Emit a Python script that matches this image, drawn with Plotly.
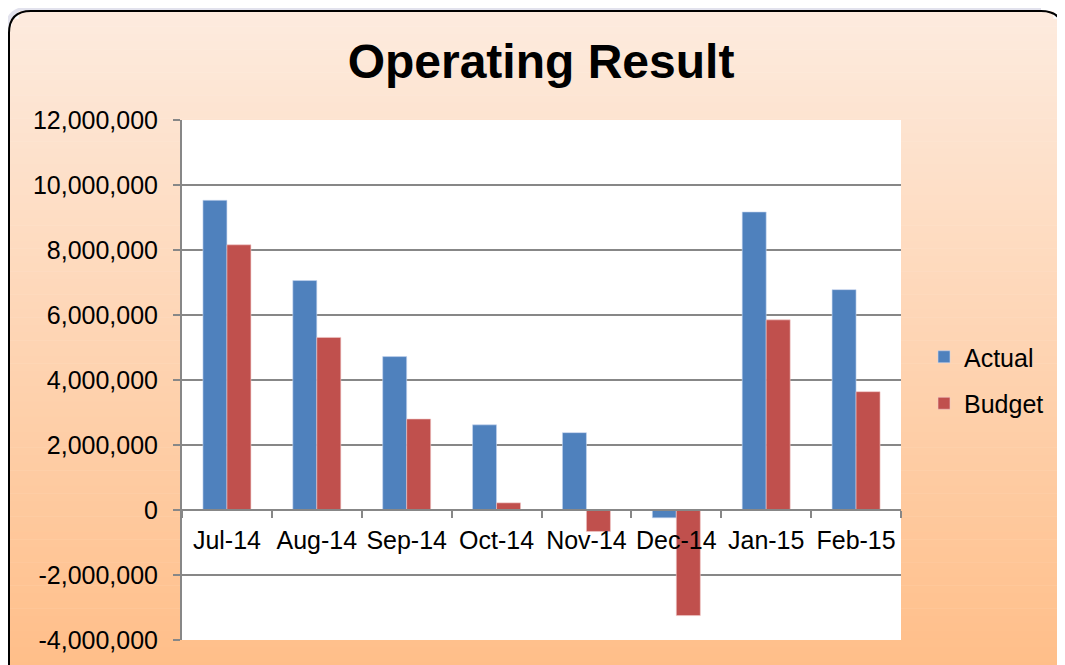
import math
import plotly.graph_objects as go

# ---- data ----
categories = ["Jul-14", "Aug-14", "Sep-14", "Oct-14", "Nov-14", "Dec-14", "Jan-15", "Feb-15"]
actual = [9530000, 7060000, 4720000, 2620000, 2380000, -240000, 9170000, 6780000]
budget = [8160000, 5310000, 2800000, 220000, -660000, -3250000, 5850000, 3640000]
y_tick_vals = [-4000000, -2000000, 0, 2000000, 4000000, 6000000, 8000000, 10000000, 12000000]
y_tick_text = ["-4,000,000", "-2,000,000", "0", "2,000,000", "4,000,000", "6,000,000",
               "8,000,000", "10,000,000", "12,000,000"]

# ---- layout geometry (page pixels; the page body adds an 8px offset) ----
OFF = 8
WIDTH, HEIGHT = 1065 - OFF, 665 - OFF
L, R, T, B = 182 - OFF, 901 - OFF, 120 - OFF, 640 - OFF
PW, PH = R - L, B - T


def px(x):
    return (x - OFF - L) / PW


def py(y):
    return (B - (y - OFF)) / PH


FONT = "Arial, Liberation Sans, sans-serif"
GRID = "#878787"

fig = go.Figure()
fig.add_trace(go.Bar(name="Actual", x=categories, y=actual, legendgroup="a",
                     marker=dict(color="#4F81BD", line=dict(width=1, color="rgba(200,215,240,0.6)"))))
fig.add_trace(go.Bar(name="Budget", x=categories, y=budget, legendgroup="b",
                     marker=dict(color="#C0504D", line=dict(width=1, color="rgba(240,200,200,0.6)"))))

# ---- background: rounded gradient panel ----
shapes = []
bx0, by0, bx1, by1, rad = 9, 11, 1063, 700, 22
c_top = (253, 235, 223)
c_bot = (255, 188, 132)
N = 90
for i in range(N):
    ya = by0 + (by1 - by0) * i / N
    yb = by0 + (by1 - by0) * (i + 1) / N
    t = (i + 0.5) / N
    col = tuple(int(round(c_top[k] + (c_bot[k] - c_top[k]) * t)) for k in range(3))
    ym = (ya + yb) / 2
    inset = 0
    if ym < by0 + rad:
        d = by0 + rad - ym
        inset = rad - math.sqrt(max(rad * rad - d * d, 0))
    shapes.append(dict(type="rect", xref="paper", yref="paper", layer="below",
                       x0=px(bx0 + inset), x1=px(bx1 - inset), y0=py(yb + 0.5), y1=py(ya),
                       fillcolor="rgb(%d,%d,%d)" % col, line=dict(width=0)))
# plot area white
shapes.append(dict(type="rect", xref="paper", yref="paper", layer="below",
                   x0=0, x1=1, y0=0, y1=1, fillcolor="white", line=dict(width=0)))
# rounded border
path = ("M {a},{b} L {a},{c} Q {a},{d} {e},{d} L {f},{d} Q {g},{d} {g},{c} L {g},{b}").format(
    a=px(bx0), b=py(by1), c=py(by0 + rad), d=py(by0), e=px(bx0 + rad), f=px(bx1 - rad), g=px(bx1))
shapes.append(dict(type="path", xref="paper", yref="paper", layer="below", path=path,
                   line=dict(color="black", width=2)))
# soft shadow hint
spath = ("M {a},{b} L {a},{c} Q {a},{d} {e},{d} L {f},{d}").format(
    a=px(bx0 - 3), b=py(by1), c=py(by0 + rad), d=py(by0 - 3), e=px(bx0 + rad), f=px(bx1 - rad))
shapes.insert(0, dict(type="path", xref="paper", yref="paper", layer="below", path=spath,
                      line=dict(color="rgba(190,190,215,0.45)", width=4)))

fig.update_layout(
    width=WIDTH, height=HEIGHT,
    margin=dict(l=L, r=WIDTH - R, t=T, b=HEIGHT - B, pad=0),
    paper_bgcolor="white", plot_bgcolor="white",
    barmode="group", bargap=0.466, bargroupgap=0,
    shapes=shapes,
    font=dict(family=FONT, size=25, color="black"),
    title=dict(text="<b>Operating Result</b>", font=dict(family=FONT, size=48, color="black"),
               x=px(541), xref="paper", xanchor="center", y=1 - (61 - OFF) / HEIGHT, yref="container",
               yanchor="middle"),
    legend=dict(x=px(924), xanchor="left", y=py(380), yanchor="middle",
                bgcolor="rgba(0,0,0,0)", font=dict(family=FONT, size=25),
                traceorder="grouped", tracegroupgap=11),
    showlegend=True,
)
fig.update_xaxes(type="category", anchor="free", position=0.25, showgrid=False,
                 showline=True, linecolor=GRID, linewidth=2, ticks="outside", tickson="boundaries",
                 ticklen=7, tickwidth=2, tickcolor=GRID, tickangle=0, ticklabelstandoff=8,
                 tickfont=dict(family=FONT, size=25), fixedrange=True)
fig.update_yaxes(range=[-4000000, 12000000], tickvals=y_tick_vals, ticktext=y_tick_text,
                 showgrid=True, gridcolor=GRID, gridwidth=2, zeroline=False,
                 showline=True, linecolor=GRID, linewidth=2, ticks="outside", ticklen=7,
                 tickwidth=2, tickcolor=GRID, ticklabelstandoff=10,
                 tickfont=dict(family=FONT, size=25), fixedrange=True)

fig.write_html("out.html")
